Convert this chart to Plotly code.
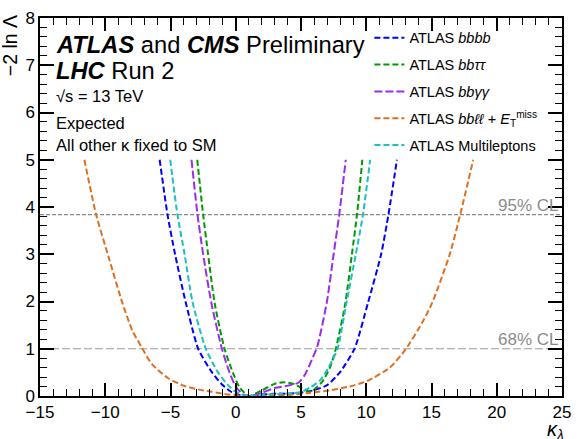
import plotly.graph_objects as go

k_bbbb = [-5.83, -5.23, -4.65, -3.85, -2.88, -1.87, -1.11, -0.36, 0.3, 1.0, 2.0, 3.0, 4.0, 5.0, 5.96, 7.0, 7.98, 9.1, 10.13, 11.14, 11.7, 12.35]
nll_bbbb = [5.0, 3.84, 3.0, 2.0, 1.0, 0.52, 0.26, 0.09, 0.02, 0.0, 0.03, 0.05, 0.05, 0.07, 0.12, 0.23, 0.5, 1.0, 1.97, 3.0, 3.84, 5.0]

k_bbtt = [-2.95, -2.5, -2.12, -1.62, -0.86, -0.23, 0.3, 1.0, 2.0, 3.0, 3.7, 4.5, 5.2, 5.8, 6.59, 7.22, 7.67, 8.4, 8.9, 9.29, 9.7]
nll_bbtt = [5.0, 3.84, 3.0, 1.97, 1.0, 0.5, 0.18, 0.0, 0.12, 0.26, 0.29, 0.25, 0.14, 0.1, 0.29, 0.6, 1.0, 1.97, 3.0, 3.84, 5.0]

k_bbyy = [-3.39, -2.93, -2.5, -1.87, -1.06, -0.48, 0.02, 0.6, 1.2, 2.0, 3.0, 4.0, 4.8, 5.3, 5.8, 6.25, 6.97, 7.5, 7.93, 8.43]
nll_bbyy = [5.0, 3.84, 3.0, 1.97, 1.0, 0.5, 0.19, 0.03, 0.0, 0.07, 0.17, 0.22, 0.28, 0.45, 0.75, 1.05, 1.97, 3.0, 3.84, 5.0]

k_bbll = [-11.6, -10.7, -9.7, -8.69, -7.93, -7.17, -6.44, -5.15, -4.0, -2.88, -1.87, -0.5, 1.0, 2.5, 4.0, 5.5, 7.2, 8.7, 10.1, 11.8, 13.0, 14.3, 15.05, 16.4, 17.2, 18.2]
nll_bbll = [5.0, 3.84, 2.9, 1.97, 1.39, 1.01, 0.68, 0.37, 0.22, 0.14, 0.09, 0.03, 0.0, 0.0, 0.02, 0.06, 0.12, 0.2, 0.32, 0.6, 0.98, 1.56, 1.97, 3.0, 3.84, 5.0]

k_ml = [-5.02, -4.47, -3.92, -3.32, -2.3, -1.36, -0.6, 0.0, 0.7, 1.3, 2.5, 3.5, 4.5, 5.1, 5.7, 6.46, 7.1, 7.8, 8.48, 9.2, 9.75, 10.3]
nll_ml = [5.0, 3.84, 3.0, 2.0, 1.0, 0.5, 0.23, 0.09, 0.01, 0.0, 0.03, 0.05, 0.06, 0.09, 0.18, 0.33, 0.6, 1.0, 1.97, 3.0, 3.84, 5.0]

cl_levels = [3.84, 1.0]
cl_labels = ["95% CL", "68% CL"]

FONT = "Liberation Sans, Arial, Helvetica, sans-serif"
X_RANGE = [-15, 25]
Y_RANGE = [0, 8]

series = [
    ("ATLAS <i>bbbb</i>", k_bbbb, nll_bbbb, "#0000ff", "6px,3px"),
    ("ATLAS <i>bbττ</i>", k_bbtt, nll_bbtt, "#009900", "6px,3px"),
    ("ATLAS <i>bbγγ</i>", k_bbyy, nll_bbyy, "#9a2cf0", "8px,3px"),
    ("ATLAS <i>bbℓℓ</i> + <i>E</i><sub>T</sub><sup>miss</sup>", k_bbll, nll_bbll, "#dd6f22", "6px,3px"),
    ("ATLAS Multileptons", k_ml, nll_ml, "#1cc0c0", "6px,3px"),
]

fig = go.Figure()

# confidence level reference lines
fig.add_trace(go.Scatter(x=X_RANGE, y=[cl_levels[0]] * 2, mode="lines", showlegend=False,
                         line=dict(color="#8a8a8a", width=1.3, dash="4px,2px"), hoverinfo="skip"))
fig.add_trace(go.Scatter(x=X_RANGE, y=[cl_levels[1]] * 2, mode="lines", showlegend=False,
                         line=dict(color="#9a9a9a", width=1, dash="8px,3px"), hoverinfo="skip"))

for i, (name, xs, ys, col, dash) in enumerate(series):
    fig.add_trace(go.Scatter(
        x=xs, y=ys, mode="lines", name=name, legendgroup=str(i),
        line=dict(color=col, width=2, dash=dash, shape="spline", smoothing=0.6),
    ))

# invisible trace so the top / right tick axes get drawn
fig.add_trace(go.Scatter(x=X_RANGE, y=Y_RANGE, xaxis="x2", yaxis="y2", mode="lines",
                         line=dict(width=0), showlegend=False, hoverinfo="skip", opacity=0))

for lvl, lab in zip(cl_levels, cl_labels):
    fig.add_annotation(x=0.981, xref="paper", y=lvl, yref="y", text=lab, showarrow=False,
                       xanchor="right", yanchor="bottom", yshift=-2, xshift=8,
                       font=dict(size=17, color="#8c8c8c", family=FONT))

texts = [
    ("<b><i>ATLAS</i></b> and <b><i>CMS</i></b> Preliminary", 0.929, 23.7),
    ("<b><i>LHC</i></b> Run 2", 0.859, 23.7),
    ("√s = 13 TeV", 0.793, 16.5),
    ("Expected", 0.723, 16.5),
    ("All other κ fixed to SM", 0.663, 16.5),
]
for txt, yy, sz in texts:
    fig.add_annotation(x=0.027, xref="paper", y=yy, yref="paper", text=txt, showarrow=False,
                       xanchor="left", yanchor="middle", font=dict(size=sz, color="black", family=FONT))

# axis titles, ROOT style placement
fig.add_annotation(x=-0.058, xref="paper", y=1.0, yref="paper", text="−2 ln Λ", textangle=-90,
                   showarrow=False, xanchor="center", yanchor="top", yshift=5,
                   font=dict(size=19.5, color="black", family=FONT))
fig.add_annotation(x=1.008, xref="paper", y=-0.09, yref="paper", text="<i>κ</i><sub><i>λ</i></sub>",
                   showarrow=False, xanchor="right", yanchor="middle",
                   font=dict(size=20, color="black", family=FONT))

axis_common = dict(showline=True, linecolor="black", linewidth=1.5, mirror=True,
                   ticks="inside", tickcolor="black", tickwidth=1.5, showgrid=False, zeroline=False,
                   tickfont=dict(size=17, color="black", family=FONT))
xminor = dict(dtick=1, ticklen=7, ticks="inside", tickcolor="black", tickwidth=1)
yminor = dict(dtick=0.2, ticklen=7, ticks="inside", tickcolor="black", tickwidth=1)

fig.update_layout(
    xaxis=dict(range=X_RANGE, dtick=5, tick0=0, ticklen=13, minor=xminor, **axis_common),
    yaxis=dict(range=Y_RANGE, dtick=1, tick0=0, ticklen=14, minor=yminor, **axis_common),
    xaxis2=dict(range=X_RANGE, dtick=5, tick0=0, ticklen=13, minor=xminor, overlaying="x", side="top",
                showticklabels=False, ticks="inside", tickcolor="black", tickwidth=1.5,
                showgrid=False, zeroline=False, showline=False),
    yaxis2=dict(range=Y_RANGE, dtick=1, tick0=0, ticklen=14, minor=yminor, overlaying="y", side="right",
                showticklabels=False, ticks="inside", tickcolor="black", tickwidth=1.5,
                showgrid=False, zeroline=False, showline=False),
    width=580, height=439,
    margin=dict(l=40, r=12, t=9, b=43),
    paper_bgcolor="white", plot_bgcolor="white",
    font=dict(family=FONT, color="black"),
    legend=dict(x=0.631, y=0.99, xanchor="left", yanchor="top", bgcolor="rgba(0,0,0,0)",
                font=dict(size=14.5, family=FONT, color="black"), tracegroupgap=5),
)

fig.write_html("out.html", config={"displayModeBar": False},
               post_script="document.body.style.margin='0';")
